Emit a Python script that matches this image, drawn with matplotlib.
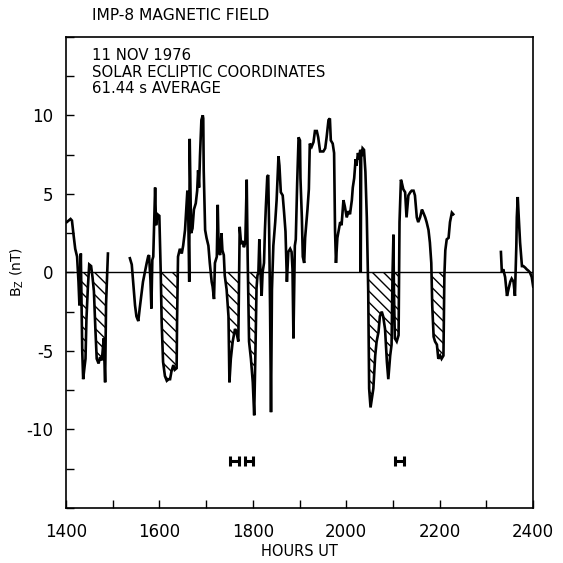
import matplotlib
import numpy as np

matplotlib.use("Agg")

import matplotlib.pyplot as plt

# IMP-8 Bz trace (hours UT, nT); three data passes with gaps between
seg1_hours = [1402, 1406, 1410, 1413, 1416, 1420, 1424, 1427, 1429, 1432, 1435, 1437, 1440,
              1442, 1444, 1447, 1450, 1454, 1457, 1460, 1463, 1466, 1470, 1473, 1477, 1481,
              1484, 1486, 1490]
seg1_bz = [3.2, 3.3, 3.4, 3.3, 2.5, 1.5, 1.0, -0.6, -2.1, 1.2, -5.0, -6.8, -6.0,
           -5.5, -3.0, -1.0, 0.5, 0.4, -0.3, -1.2, -3.5, -5.5, -5.8, -5.4, -5.6, -4.2,
           -7.0, -2.0, 1.2]

seg2_hours = [1537, 1541, 1544, 1548, 1551, 1555, 1558, 1562, 1565, 1569, 1573, 1576, 1578,
              1581, 1583, 1585, 1587, 1591, 1593, 1596, 1600, 1603, 1605, 1608, 1612, 1616,
              1620, 1623, 1626, 1630, 1633, 1637, 1638, 1640, 1644, 1648, 1651, 1655, 1657,
              1660, 1662, 1664, 1665, 1668, 1671, 1674, 1678, 1681, 1683, 1685, 1687, 1690,
              1693, 1694, 1695, 1698, 1701, 1705, 1708, 1712, 1714, 1717, 1719, 1723, 1725,
              1727, 1730, 1733, 1735, 1738, 1740, 1744, 1748, 1750, 1753, 1757, 1762, 1765,
              1769, 1772, 1775, 1778, 1781, 1784, 1787, 1789, 1792, 1796, 1800, 1803, 1806,
              1808, 1810, 1812, 1814, 1817, 1819, 1821, 1824, 1826, 1828, 1831, 1833, 1835,
              1837, 1839, 1841, 1844, 1848, 1851, 1855, 1857, 1860, 1864, 1867, 1870, 1873,
              1876, 1880, 1883, 1885, 1887, 1890, 1892, 1895, 1898, 1901, 1902, 1905, 1907,
              1910, 1912, 1917, 1920, 1922, 1926, 1930, 1933, 1937, 1940, 1944, 1947, 1951,
              1955, 1958, 1962, 1965, 1967, 1971, 1974, 1976, 1978, 1981, 1984, 1987, 1990,
              1994, 1997, 2001, 2005, 2008, 2012, 2014, 2017, 2020, 2022, 2025, 2028, 2030,
              2031, 2032, 2033, 2035, 2038, 2041, 2044, 2047, 2049, 2052, 2055, 2058, 2062,
              2065, 2069, 2072, 2076, 2079, 2083, 2087, 2090, 2094, 2097, 2099, 2101, 2102,
              2104, 2108, 2112, 2114, 2117, 2119, 2122, 2126, 2129, 2133, 2137, 2140, 2144,
              2147, 2151, 2154, 2158, 2162, 2165, 2169, 2172, 2176, 2179, 2182, 2184, 2187,
              2190, 2194, 2197, 2201, 2204, 2208, 2210, 2212, 2215, 2219, 2222, 2226, 2229]
seg2_bz = [0.9, 0.5, -0.6, -2.1, -2.8, -3.1, -2.3, -1.3, -0.6, 0.0, 0.6, 1.0, 1.1,
           -0.5, -2.3, 0.8, 1.0, 5.4, 3.0, 3.7, 3.6, 0.0, -3.2, -5.7, -6.6, -6.9,
           -6.8, -6.8, -6.3, -5.9, -6.2, -6.1, -3.0, 1.0, 1.5, 1.2, 1.7, 2.7, 3.7,
           5.2, 3.5, -0.6, 8.5, 2.5, 2.8, 4.0, 4.4, 5.2, 6.5, 5.4, 7.4, 9.7,
           10.0, 9.8, 6.5, 2.7, 2.2, 1.7, 0.6, -0.6, -0.9, -1.7, 0.6, 1.0, 4.3,
           1.4, 1.1, 2.5, 1.4, 1.1, -0.2, -1.1, -2.8, -7.0, -5.5, -4.4, -3.6, -3.8,
           -4.4, 2.9, 1.8, 2.0, 1.6, 1.9, 5.9, 1.0, -4.4, -5.5, -7.0, -9.1, -4.5,
           -1.0, -0.2, 0.0, 2.1, -0.4, -1.5, 0.0, 0.6, 2.7, 4.2, 6.1, 6.2, 2.7,
           -2.3, -8.9, -1.1, 1.7, 3.2, 4.6, 7.4, 6.8, 5.1, 4.9, 3.8, 2.6, -0.6,
           1.3, 1.5, 1.3, 0.2, -4.2, 1.7, 2.1, 5.7, 8.6, 8.4, 6.0, 3.5, 1.0,
           0.6, 2.2, 4.0, 5.3, 8.2, 8.0, 8.3, 9.0, 9.0, 8.6, 7.7, 7.7, 7.7,
           7.9, 8.6, 9.7, 9.8, 8.4, 8.2, 7.6, 2.7, 0.6, 2.2, 2.7, 3.2, 3.0,
           4.6, 4.2, 3.5, 3.9, 3.7, 4.6, 5.4, 6.0, 7.2, 6.8, 7.6, 7.2, 7.8,
           0.0, 7.8, 7.4, 7.9, 7.8, 6.4, 3.5, -1.1, -7.4, -8.6, -8.0, -7.4, -5.3,
           -4.4, -3.8, -2.8, -2.5, -2.8, -3.6, -5.7, -6.8, -5.3, -4.6, -0.2, 2.4, -1.0,
           -4.2, -4.4, -4.0, 3.2, 5.9, 5.7, 5.3, 5.1, 3.5, 4.9, 5.1, 5.2, 5.2,
           4.9, 3.5, 3.2, 3.5, 4.0, 3.8, 3.5, 3.2, 2.7, 1.9, 0.6, -2.1, -4.1,
           -4.4, -4.6, -5.5, -5.3, -5.5, -5.3, -0.2, 1.4, 2.1, 2.2, 3.2, 3.8, 3.7]

seg3_hours = [2331, 2333, 2336, 2340, 2344, 2347, 2351, 2354, 2358, 2361, 2364, 2365, 2367,
              2369, 2372, 2376, 2379, 2383, 2386, 2390, 2393, 2397, 2400]
seg3_bz = [1.3, 0.0, 0.2, -0.3, -1.5, -1.1, -0.6, -0.4, -0.6, -1.5, 1.7, 3.5, 4.8,
           3.6, 1.9, 0.4, 0.4, 0.3, 0.2, 0.1, 0.0, -0.3, -0.9]

# southward-field intervals that are hatched in the original
hatch_intervals = [(1425, 1495), (1600, 1641), (1742, 1772), (1788, 1811), (2040, 2113), (2180, 2211)]

# interval markers ("H") below the trace
marker_hours = [1761, 1792, 2114]
marker_halfwidth = [9, 9, 9]
marker_level = -12.0

x_ticks = list(range(1400, 2401, 100))
x_labels = ["1400", "", "1600", "", "1800", "", "2000", "", "2200", "", "2400"]
y_ticks = [-15, -12.5, -10, -7.5, -5, -2.5, 0, 2.5, 5, 7.5, 10, 12.5, 15]
y_labels = ["", "", "-10", "", "-5", "", "0", "", "5", "", "10", "", ""]

plt.rcParams["font.family"] = "DejaVu Sans"
plt.rcParams["hatch.linewidth"] = 1.0

fig = plt.figure(figsize=(5.63, 5.63), dpi=100)
ax = fig.add_axes([0.117, 0.0977, 0.830, 0.837])

ax.axhline(0, color="black", linewidth=1.0, zorder=1)

for hours, bz in [(seg1_hours, seg1_bz), (seg2_hours, seg2_bz), (seg3_hours, seg3_bz)]:
    hours = np.asarray(hours, dtype=float)
    bz = np.asarray(bz, dtype=float)
    in_interval = np.zeros(len(hours), dtype=bool)
    for start, stop in hatch_intervals:
        in_interval |= (hours >= start) & (hours <= stop)
    ax.fill_between(hours, bz, 0, where=(bz <= 0) & in_interval, interpolate=True,
                    facecolor="none", edgecolor="black", linewidth=0, hatch="\\\\\\", zorder=2)
    ax.plot(hours, bz, color="black", linewidth=1.9, solid_joinstyle="miter", zorder=3)

ax.errorbar(marker_hours, [marker_level] * len(marker_hours), xerr=marker_halfwidth,
            fmt="none", ecolor="black", elinewidth=2.2, capsize=3.6, capthick=2.2)

ax.set_xlim(1400, 2400)
ax.set_ylim(-15, 15)
ax.set_xticks(x_ticks)
ax.set_xticklabels(x_labels)
ax.set_yticks(y_ticks)
ax.set_yticklabels(y_labels)
ax.tick_params(direction="in", length=6, width=1.0, labelsize=12, top=False, right=False)
ax.tick_params(axis="x", pad=11)
ax.tick_params(axis="y", pad=9)
for spine in ax.spines.values():
    spine.set_linewidth(1.2)

ax.set_xlabel("HOURS UT", fontsize=10.5, labelpad=2)
ax.set_ylabel(r"B$_{\mathrm{Z}}$ (nT)", fontsize=10)
ax.yaxis.set_label_coords(-0.086, 0.5)

ax.text(0.056, 0.951, "11 NOV 1976", transform=ax.transAxes, fontsize=10.7, va="baseline")
ax.text(0.056, 0.915, "SOLAR ECLIPTIC COORDINATES", transform=ax.transAxes, fontsize=10.7, va="baseline")
ax.text(0.056, 0.881, "61.44 s AVERAGE", transform=ax.transAxes, fontsize=10.7, va="baseline")

fig.text(0.163, 0.9636, "IMP-8 MAGNETIC FIELD", fontsize=11.2, va="baseline")

fig.savefig("out.png", dpi=100)
plt.close(fig)
